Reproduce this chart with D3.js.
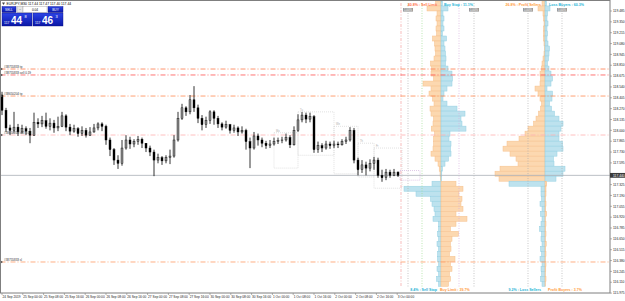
<!DOCTYPE html>
<html><head><meta charset="utf-8">
<script src="https://cdn.jsdelivr.net/npm/d3@7"></script>
<style>body{margin:0;background:#fff;overflow:hidden}svg{display:block;font-family:'Liberation Sans',Arial,sans-serif}</style>
</head><body><svg id="c" width="625" height="301"></svg>
<script>
// ---------------- DATA ----------------
const symbol = "EURJPY,M30";
const headerOHLC = ["117.44", "117.47", "117.40", "117.44"];
const lotSize = "0.04";
const bidQuote = ["117", "44", "8"];
const askQuote = ["117", "46", "3"];
const currentPrice = 117.44;

const opens = [118.44,118.25,118.03,118.00,118.04,117.98,118.02,117.99,117.94,118.10,
118.08,118.12,118.05,118.09,118.03,118.05,118.18,118.04,117.99,118.02,
117.96,118.00,117.94,117.98,118.03,118.08,118.05,117.88,117.76,117.63,
117.59,117.78,117.88,117.83,117.86,117.89,117.84,117.78,117.73,117.63,
117.66,117.62,117.66,117.68,117.88,118.15,118.28,118.23,118.38,118.28,
118.15,118.07,118.12,118.23,118.15,118.08,118.04,118.07,118.00,118.03,
117.98,118.00,117.86,117.78,117.93,117.88,117.84,117.81,117.83,117.86,
117.87,117.88,117.91,117.82,118.00,118.13,118.19,118.14,118.17,117.76,
117.81,117.78,117.83,117.81,117.83,117.82,117.86,117.88,118.00,117.63,
117.51,117.57,117.53,117.59,117.63,117.44,117.41,117.48,117.44,117.48];
const highs = [118.48,118.28,118.07,118.23,118.08,118.07,118.05,118.03,118.22,118.15,
118.18,118.22,118.15,118.13,118.17,118.23,118.20,118.08,118.07,118.04,
118.05,118.03,118.04,118.08,118.10,118.10,118.07,117.91,117.78,117.69,
117.88,117.94,117.92,117.89,117.93,117.91,117.84,117.81,117.76,117.71,
117.68,117.69,117.76,117.94,118.23,118.33,118.30,118.44,118.55,118.32,
118.19,118.17,118.25,118.25,118.18,118.10,118.12,118.08,118.07,118.05,
118.05,118.02,117.91,117.98,117.96,117.91,117.87,117.88,117.91,117.91,
117.92,117.96,117.94,118.05,118.20,118.23,118.22,118.22,118.19,117.86,
117.84,117.87,117.86,117.87,117.86,117.89,117.92,118.04,118.03,117.66,
117.63,117.61,117.64,117.67,117.66,117.51,117.52,117.51,117.52,117.49];
const lows = [118.19,117.98,117.94,117.97,117.93,117.96,117.94,117.84,117.93,118.03,
118.04,118.02,118.00,117.97,117.99,118.04,117.99,117.94,117.97,117.92,
117.93,117.91,117.93,117.97,118.00,117.99,117.82,117.68,117.57,117.52,
117.56,117.76,117.77,117.79,117.82,117.78,117.73,117.68,117.43,117.59,
117.57,117.59,117.58,117.66,117.86,118.13,118.18,118.20,118.23,118.09,
118.00,118.03,118.08,118.07,118.03,118.00,118.02,117.96,117.97,117.93,
117.96,117.76,117.53,117.76,117.81,117.79,117.77,117.78,117.81,117.83,
117.84,117.86,117.78,117.81,117.98,118.10,118.09,118.10,117.72,117.72,
117.73,117.76,117.77,117.78,117.78,117.81,117.83,117.86,117.59,117.44,
117.47,117.44,117.49,117.51,117.41,117.36,117.38,117.41,117.43,117.42];
const closes = [118.25,118.03,118.00,118.04,117.98,118.02,117.99,117.94,118.10,118.08,
118.12,118.05,118.09,118.03,118.05,118.18,118.04,117.99,118.02,117.96,
118.00,117.94,117.98,118.03,118.08,118.05,117.88,117.76,117.63,117.59,
117.78,117.88,117.83,117.86,117.89,117.84,117.78,117.73,117.63,117.66,
117.62,117.66,117.68,117.88,118.15,118.28,118.23,118.38,118.28,118.15,
118.07,118.12,118.23,118.15,118.08,118.04,118.07,118.00,118.03,117.98,
118.00,117.86,117.78,117.93,117.88,117.84,117.81,117.83,117.86,117.87,
117.88,117.91,117.82,118.00,118.13,118.19,118.14,118.17,117.76,117.81,
117.78,117.83,117.81,117.83,117.82,117.86,117.88,118.00,117.63,117.51,
117.57,117.53,117.59,117.63,117.44,117.41,117.48,117.44,117.48,117.44];

const timeLabels = ["24 Sep 2019","25 Sep 00:00","25 Sep 08:00","25 Sep 16:00","26 Sep 00:00",
"26 Sep 08:00","26 Sep 16:00","27 Sep 00:00","27 Sep 08:00","27 Sep 16:00","30 Sep 00:00",
"30 Sep 08:00","30 Sep 16:00","1 Oct 00:00","1 Oct 08:00","1 Oct 16:00","2 Oct 00:00",
"2 Oct 08:00","2 Oct 16:00","3 Oct 00:00"];
const priceTicks = ["119.485","119.350","119.215","119.080","118.945","118.810","118.675",
"118.540","118.405","118.270","118.135","118.000","117.865","117.730","117.595","117.460",
"117.325","117.190","117.055","116.920","116.785","116.650","116.515","116.380","116.245",
"116.110","115.975"];

const orderLevels = [118.763, 118.689, 118.427, 117.942, 116.362];
const orderLabels = ["#38755833 tp", "#38755833 sell 0.19", "#38650204 tp", "#38650204 sell 0.04", "#38755833 sl"];

// Order book (rows top -> bottom). Above split: left = Sell Limit, right = Buy Stop; below: left = Sell Stop, right = Buy Limit
const bookLeft = [5.5,14,4,5,4,5,4.5,8.5,6.5,6,5.5,7,10.5,9.5,10,7.5,18,10,12,8.5,7,11,10,7.5,8,9.7,6.5,7.5,7.5,8,10,6,3,1.8,1,0.7,
9,37,25,10.5,9,7,6,8,2.5,2.5,3.5,2.5,4,2.5,3.5,3.5,2.5,4,2.5,4.5,2.5];
const bookRight = [1.5,7,2,3,2,3,1.5,5.5,3,4,4.5,5,4.5,7,11,11.5,11,6,3,2,6,16,24,20,21,25,9,8,10,9.5,10,7.5,4,1.5,0.8,0.5,
15,22,18,21,20,22,15,26,15,9.5,17.5,11,9.5,10,8.5,14,9.5,11,8.5,9.5,7.5];
// Position book. Above: left = Profit Sellers, right = Loss Buyers; below: left = Loss Sellers, right = Profit Buyers
const posLeft = [3,7,2,1.5,1,1.5,1.5,1.5,1,0.5,1,2,3,3.5,5,4.5,5,10,7,5,3.5,4.5,6.5,9,11.5,17,20,26,38,42,35,29,27,45,50,46,
36,4,4,3.5,5,3,4.5,3,4,5.5,3.5,4,3,4.5,3.5,5,3,4,3.5,4.5,3];
const posRight = [1.5,5,2.5,2,3,2,2.5,2,3,4.5,4,3.5,2.5,4,6,7.5,6,2,7.5,7,4.5,6.5,9.5,14,18,16,14,14,17.5,18,12,8.5,9,20,18,11,
1.7,1,1,0.5,1,0.7,1.5,0.5,1,0.7,1,0.5,1.2,0.7,1,0.5,1,0.8,0.5,1,0.5];
const rowsAbove = 36;
const histTop = 119.61, histStep = 0.0623;

const bookHeaders = ["40.8% : Sell Limit", "Buy Stop : 11.1%", "8.4% : Sell Stop", "Buy Limit : 39.7%"];
const posHeaders = ["26.8% : Profit Sellers", "Loss Buyers : 60.3%", "9.2% : Loss Sellers", "Profit Buyers : 3.7%"];
const markerLabels = ["1.00%", "1.00%", "1.00%", "1.00%"];

// ---------------- LAYOUT ----------------
const svg = d3.select('#c');
const L = 0.5, R = 610, T = 0.5, B = 293;
const y = d3.scaleLinear().domain([+priceTicks[0], +priceTicks[priceTicks.length-1]]).range([11, 293.1]);
const x = d3.scaleLinear().domain([0, closes.length - 1]).range([2, 398]);
const tx = d3.scaleLinear().domain([0, timeLabels.length - 1]).range([2, 397.2]);
const hx = d3.scaleLinear().domain([0, 33]).range([0, 33]);
const ORANGE = '#fcd8b0', ORANGE_S = '#f6c08c', BLUE = '#bde2ee', BLUE_S = '#94d0e2';

svg.append('defs').append('clipPath').attr('id','clip').append('rect')
  .attr('x', L).attr('y', T).attr('width', R - L).attr('height', B - T);
const plot = svg.append('g').attr('clip-path', 'url(#clip)');

// session boxes
const boxes = [[68,117.97,74,117.53,'Mo'],[74,118.23,83,117.69,'Tu'],[83,118.05,89,117.46,'We'],[89,117.84,93,117.42,'Th'],[93,117.78,100,117.28,'Fr']];
plot.selectAll('rect.box').data(boxes).join('rect').attr('class','box')
  .attr('x', d => x(d[0])).attr('y', d => y(d[1])).attr('width', d => x(d[2]) - x(d[0])).attr('height', d => y(d[3]) - y(d[1]))
  .attr('fill','none').attr('stroke','#cfcfcf').attr('stroke-width',0.6).attr('stroke-dasharray','1,1');
plot.selectAll('text.box').data(boxes).join('text').attr('class','box')
  .attr('x', d => x(d[0]) + 2).attr('y', d => y(d[1]) - 1).attr('font-size', 2.6).attr('fill','#aaa').text(d => d[4]);
plot.append('rect').attr('x', 400).attr('y', y(117.50)).attr('width', 20).attr('height', y(117.38) - y(117.50))
  .attr('fill','none').attr('stroke','#c9a6d9').attr('stroke-width',0.6).attr('stroke-dasharray','1,1');

// histogram rows
const rowY = i => y(histTop - histStep * i);
const rowH = i => y(histTop - histStep * (i + 1)) - y(histTop - histStep * i);
function drawPanel(cx, left, right) {
  const g = plot.append('g');
  g.selectAll('rect.l').data(left).join('rect').attr('class','l')
    .attr('x', v => cx - hx(v)).attr('y', (v, i) => rowY(i)).attr('width', v => hx(v)).attr('height', (v, i) => rowH(i))
    .attr('fill', (v, i) => i < rowsAbove ? ORANGE : BLUE).attr('stroke', (v, i) => i < rowsAbove ? ORANGE_S : BLUE_S).attr('stroke-width', 0.5);
  g.selectAll('rect.r').data(right).join('rect').attr('class','r')
    .attr('x', cx).attr('y', (v, i) => rowY(i)).attr('width', v => hx(v)).attr('height', (v, i) => rowH(i))
    .attr('fill', (v, i) => i < rowsAbove ? BLUE : ORANGE).attr('stroke', (v, i) => i < rowsAbove ? BLUE_S : ORANGE_S).attr('stroke-width', 0.5);
}
const C1 = 441, C2 = 545;
drawPanel(C1, bookLeft, bookRight);
drawPanel(C2, posLeft, posRight);

// vertical reference lines
const vlines = [[C1 - hx(40), '#f4a0a0', '3,1.5,1,1.5'], [C1 - hx(33), '#b0b0b0', '1,1.5'], [C1 - hx(19), '#9fdc8f', '1,1.5'],
  [C1 + hx(18), '#d9b0e0', '1,1.5'], [C1 + hx(33), '#b0b0b0', '1,1.5'], [C2 - hx(17), '#b0b0b0', '1,1.5'], [C2 + hx(17), '#b0b0b0', '1,1.5']];
vlines.forEach(v => plot.append('line').attr('x1', v[0]).attr('x2', v[0]).attr('y1', 3).attr('y2', 287)
  .attr('stroke', v[1]).attr('stroke-width', 0.7).attr('stroke-dasharray', v[2]));
[C1 - hx(33), C1 + hx(33), C2 - hx(17), C2 + hx(17)].forEach((px, i) => {
  svg.append('rect').attr('x', px - 5).attr('y', 8).attr('width', 10).attr('height', 3.6).attr('fill', '#9a9a9a');
  svg.append('text').attr('x', px).attr('y', 10.8).attr('font-size', 2.8).attr('fill', '#fff').attr('text-anchor', 'middle').text(markerLabels[i]);
});

// order lines
const lineColors = ['#ff7a4a', '#ff4f4f', '#ff8a50', '#ffb0b0', '#ff9a66'];
orderLevels.forEach((p, i) => {
  plot.append('line').attr('x1', L).attr('x2', R).attr('y1', y(p)).attr('y2', y(p))
    .attr('stroke', lineColors[i]).attr('stroke-width', 0.8).attr('stroke-dasharray', '5,2,1,2');
  svg.append('text').attr('x', 4).attr('y', y(p) - 0.6).attr('font-size', 3).attr('fill', '#333').text(orderLabels[i]);
  svg.append('path').attr('d', `M1,${y(p)-1.2}L3,${y(p)}L1,${y(p)+1.2}Z`).attr('fill', '#555');
});

// current price line
plot.append('line').attr('x1', L).attr('x2', R).attr('y1', y(currentPrice)).attr('y2', y(currentPrice))
  .attr('stroke', '#a9b0b8').attr('stroke-width', 0.8);

// candles
const idx = d3.range(closes.length);
plot.selectAll('line.wick').data(idx).join('line').attr('class','wick')
  .attr('x1', i => x(i)).attr('x2', i => x(i)).attr('y1', i => y(highs[i])).attr('y2', i => y(lows[i]))
  .attr('stroke', '#000').attr('stroke-width', 0.8);
plot.selectAll('rect.body').data(idx).join('rect').attr('class','body')
  .attr('x', i => x(i) - 1).attr('width', 2)
  .attr('y', i => y(Math.max(opens[i], closes[i])))
  .attr('height', i => Math.max(0.6, y(Math.min(opens[i], closes[i])) - y(Math.max(opens[i], closes[i]))))
  .attr('fill', i => closes[i] >= opens[i] ? '#8f8f8f' : '#000').attr('stroke', '#000').attr('stroke-width', 0.4);

// headers
const hdr = [[bookHeaders[0], C1 - 4, 'end', '#ff7048', 5.5], [bookHeaders[1], C1 + 3, 'start', '#27b4d6', 5.5],
  [posHeaders[0], C2 - 4, 'end', '#ff9a3c', 5.5], [posHeaders[1], C2 + 4, 'start', '#27b4d6', 5.5],
  [bookHeaders[2], C1 - 4, 'end', '#27b4d6', 290.5], [bookHeaders[3], C1 - 1, 'start', '#ff9a3c', 290.5],
  [posHeaders[2], C2 - 4, 'end', '#27b4d6', 290.5], [posHeaders[3], C2 + 3, 'start', '#ff9a3c', 290.5]];
hdr.forEach(h => svg.append('text').attr('x', h[1]).attr('y', h[4]).attr('text-anchor', h[2]).attr('font-size', 3.6)
  .attr('font-weight', 'bold').attr('fill', h[3]).text(h[0]));

// frame
svg.append('rect').attr('x', L).attr('y', T).attr('width', R - L).attr('height', B - T)
  .attr('fill', 'none').attr('stroke', '#7f7f7f').attr('stroke-width', 1);

// price axis (tick label hidden where the current-price label sits)
priceTicks.forEach(t => {
  const py = y(+t);
  svg.append('line').attr('x1', R).attr('x2', R + 2).attr('y1', py).attr('y2', py).attr('stroke', '#7f7f7f').attr('stroke-width', 0.6);
  if (Math.abs(py - y(currentPrice)) > 5)
    svg.append('text').attr('x', R + 3).attr('y', py + 1.2).attr('font-size', 3.3).attr('fill', '#222').text(t);
});
svg.append('rect').attr('x', R).attr('y', y(currentPrice) - 2.4).attr('width', 15).attr('height', 4.8).attr('fill', '#3a3a3a');
svg.append('text').attr('x', R + 3).attr('y', y(currentPrice) + 1.2).attr('font-size', 3.3).attr('fill', '#fff').text(currentPrice.toFixed(3));

// time axis
timeLabels.forEach((t, j) => {
  const px = tx(j);
  svg.append('line').attr('x1', px).attr('x2', px).attr('y1', B).attr('y2', B + 2).attr('stroke', '#7f7f7f').attr('stroke-width', 0.6);
  svg.append('text').attr('x', px + 0.5).attr('y', B + 5.2).attr('font-size', 3.2).attr('fill', '#222').text(t);
});

// title + one-click panel
svg.append('path').attr('d', 'M2,2.5L5,2.5L3.5,5Z').attr('fill', '#444');
svg.append('text').attr('x', 6.5).attr('y', 5).attr('font-size', 3.4).attr('fill', '#000')
  .text(symbol + "  " + headerOHLC.join(" "));
const grad = svg.select('defs').append('linearGradient').attr('id', 'bg').attr('x1', 0).attr('x2', 0).attr('y1', 0).attr('y2', 1);
grad.append('stop').attr('offset', 0).attr('stop-color', '#2c44e6');
grad.append('stop').attr('offset', 1).attr('stop-color', '#0a16a6');
svg.append('rect').attr('x', 2).attr('y', 6.5).attr('width', 14).attr('height', 6).attr('fill', 'url(#bg)').attr('stroke', '#0a0f80').attr('stroke-width', 0.4);
svg.append('text').attr('x', 9).attr('y', 10.8).attr('text-anchor', 'middle').attr('font-size', 3.2).attr('fill', '#fff').text('SELL');
svg.append('rect').attr('x', 17).attr('y', 6.5).attr('width', 6).attr('height', 6).attr('fill', '#e6e6e6').attr('stroke', '#999').attr('stroke-width', 0.4);
svg.append('text').attr('x', 20).attr('y', 10.8).attr('text-anchor', 'middle').attr('font-size', 3.5).attr('fill', '#333').text('−');
svg.append('rect').attr('x', 23).attr('y', 6.5).attr('width', 24).attr('height', 6).attr('fill', '#fff').attr('stroke', '#999').attr('stroke-width', 0.4);
svg.append('text').attr('x', 35).attr('y', 10.8).attr('text-anchor', 'middle').attr('font-size', 3.2).attr('fill', '#000').text(lotSize);
svg.append('rect').attr('x', 48).attr('y', 6.5).attr('width', 15).attr('height', 6).attr('fill', 'url(#bg)').attr('stroke', '#0a0f80').attr('stroke-width', 0.4);
svg.append('text').attr('x', 55.5).attr('y', 10.8).attr('text-anchor', 'middle').attr('font-size', 3.2).attr('fill', '#fff').text('BUY');
[[2, bidQuote], [33, askQuote]].forEach(([bx, q]) => {
  svg.append('rect').attr('x', bx).attr('y', 13).attr('width', 30).attr('height', 13).attr('fill', 'url(#bg)').attr('stroke', '#0a0f80').attr('stroke-width', 0.4);
  svg.append('text').attr('x', bx + 2).attr('y', 23.5).attr('font-size', 3.4).attr('fill', '#fff').text(q[0]);
  svg.append('text').attr('x', bx + 9).attr('y', 24).attr('font-size', 10).attr('font-weight', 'bold').attr('fill', '#fff').text(q[1]);
  svg.append('text').attr('x', bx + 22.5).attr('y', 18).attr('font-size', 4).attr('fill', '#fff').text(q[2]);
});
</script></body></html>
